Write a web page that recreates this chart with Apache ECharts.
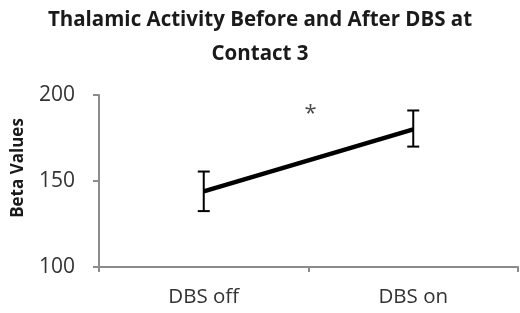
<!DOCTYPE html>
<html>
<head>
<meta charset="utf-8">
<script src="https://cdn.jsdelivr.net/npm/echarts@6/dist/echarts.min.js"></script>
<style>
  html, body { margin: 0; padding: 0; background: #fff; }
  #chart { width: 520px; height: 313px; }
</style>
</head>
<body>
<div id="chart"></div>
<script>
// data
const categories = ['DBS off', 'DBS on']
const betaMeans = [144, 180]
const betaLow = [132.5, 170]
const betaHigh = [155.5, 191]
const yTicks = [100, 150, 200]
const starPoint = [0.51, 189] // significance mark between the two groups

const font = '"Open Sans", "Noto Sans", sans-serif'

let myChart = echarts.init(document.getElementById('chart'))

const option = {
  animation: false,
  title: {
    text: 'Thalamic Activity Before and After DBS at\nContact 3',
    left: 'center',
    top: -2,
    textStyle: {
      fontFamily: font,
      fontWeight: 'bold',
      fontSize: 20.5,
      lineHeight: 34,
      color: '#1a1a1a'
    }
  },
  grid: { left: 99, right: 2, top: 95, bottom: 46 },
  xAxis: [
    {
      type: 'category',
      data: categories,
      boundaryGap: true,
      axisLine: { lineStyle: { color: '#8c8c8c', width: 2 } },
      axisTick: { show: true, length: 5, inside: false, lineStyle: { color: '#8c8c8c', width: 2 } },
      axisLabel: { margin: 20, fontFamily: font, fontSize: 20.5, color: '#333' }
    },
    {
      // hidden helper axis to place the asterisk between categories
      type: 'value',
      min: -0.5,
      max: 1.5,
      show: false
    }
  ],
  yAxis: {
    type: 'value',
    min: yTicks[0],
    max: yTicks[yTicks.length - 1],
    interval: 50,
    name: 'Beta Values',
    nameLocation: 'middle',
    nameGap: 72,
    nameTextStyle: {
      fontFamily: font,
      fontWeight: 'bold',
      fontSize: 17,
      color: '#1a1a1a',
      padding: [0, 0, 0, 26]
    },
    splitLine: { show: false },
    axisLine: { show: true, onZero: false, lineStyle: { color: '#8c8c8c', width: 2 } },
    axisTick: { show: true, length: 6, lineStyle: { color: '#8c8c8c', width: 2 } },
    axisLabel: { margin: 24, fontFamily: font, fontSize: 21, color: '#333' }
  },
  series: [
    {
      type: 'line',
      data: betaMeans,
      symbol: 'none',
      lineStyle: { color: '#000', width: 4.5 },
      z: 3
    },
    {
      type: 'custom',
      data: categories.map((c, i) => [i, betaLow[i], betaHigh[i]]),
      renderItem(params, api) {
        const lo = api.coord([api.value(0), api.value(1)])
        const hi = api.coord([api.value(0), api.value(2)])
        const half = 6
        const style = { stroke: '#000', lineWidth: 2 }
        return {
          type: 'group',
          children: [
            { type: 'line', shape: { x1: hi[0], y1: hi[1], x2: lo[0], y2: lo[1] }, style },
            { type: 'line', shape: { x1: hi[0] - half, y1: hi[1], x2: hi[0] + half, y2: hi[1] }, style },
            { type: 'line', shape: { x1: lo[0] - half, y1: lo[1], x2: lo[0] + half, y2: lo[1] }, style }
          ]
        }
      },
      z: 4
    },
    {
      type: 'scatter',
      xAxisIndex: 1,
      data: [starPoint],
      symbolSize: 0,
      label: {
        show: true,
        position: 'inside',
        formatter: '*',
        fontFamily: font,
        fontSize: 22,
        color: '#1a1a1a'
      }
    }
  ]
}

myChart.setOption(option)
</script>
</body>
</html>
